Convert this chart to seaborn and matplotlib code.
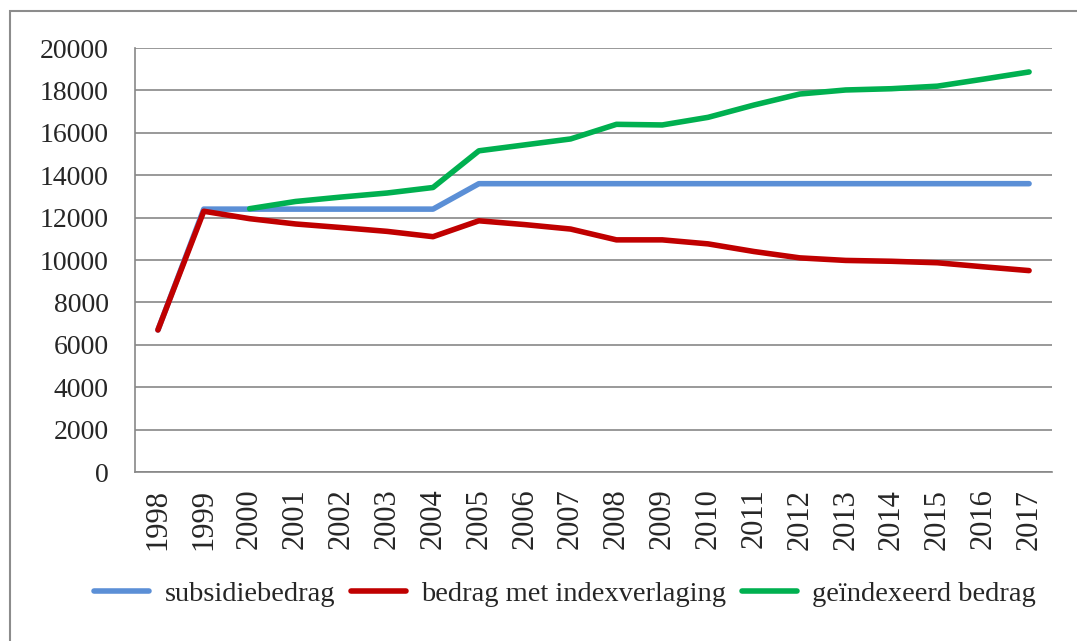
import numpy as np
import pandas as pd
import matplotlib
matplotlib.use("Agg")
import matplotlib.pyplot as plt
from matplotlib.patches import Rectangle
from matplotlib.ticker import MultipleLocator
import seaborn as sns

# data
years = list(range(1998, 2018))
subsidiebedrag = [6700, 12400, 12400, 12400, 12400, 12400, 12400, 13600, 13600, 13600,
                  13600, 13600, 13600, 13600, 13600, 13600, 13600, 13600, 13600, 13600]
indexverlaging = [6700, 12300, 11950, 11700, 11530, 11350, 11100, 11850, 11670, 11460,
                  10950, 10950, 10760, 10400, 10100, 9980, 9940, 9870, 9680, 9500]
geindexeerd = [np.nan, np.nan, 12420, 12760, 12970, 13160, 13420, 15150, 15430, 15710,
               16400, 16370, 16730, 17310, 17830, 18020, 18080, 18200, 18530, 18870]
series_names = ["subsidiebedrag", "bedrag met indexverlaging", "geïndexeerd bedrag"]
colors = ["#5B8FD6", "#C00000", "#00B050"]

df = pd.DataFrame({
    "jaar": years * 3,
    "bedrag": subsidiebedrag + indexverlaging + geindexeerd,
    "reeks": [series_names[0]] * 20 + [series_names[1]] * 20 + [series_names[2]] * 20,
})

sns.set_style("white")
plt.rcParams["font.family"] = ["Liberation Serif", "DejaVu Serif"]

fig = plt.figure(figsize=(10.77, 6.41), dpi=100)
ax = fig.add_axes([135 / 1077, 1 - 472 / 641, (1052 - 135) / 1077, (472 - 48) / 641])

sns.lineplot(data=df, x="jaar", y="bedrag", hue="reeks", hue_order=series_names,
             palette=colors, linewidth=4, ax=ax, legend=False)
for line in ax.get_lines():
    line.set_solid_capstyle("round")
    line.set_solid_joinstyle("round")

grid_c = "#878787"
ax.set_xlim(1997.5, 2017.5)
ax.set_ylim(0, 20000)
ax.set_yticks(range(0, 20001, 2000))
ax.set_xticks(years)
ax.set_xticklabels([str(y) for y in years], rotation=90)
ax.xaxis.set_minor_locator(MultipleLocator(1, offset=0.5))
ax.grid(axis="y", color=grid_c, linewidth=1.2)
ax.set_axisbelow(True)
ax.set_xlabel("")
ax.set_ylabel("")
for s in ["top", "right"]:
    ax.spines[s].set_visible(False)
for s in ["left", "bottom"]:
    ax.spines[s].set_color(grid_c)
    ax.spines[s].set_linewidth(1.2)
ax.tick_params(axis="x", which="major", length=0, pad=12, labelsize=22)
ax.tick_params(axis="x", which="minor", length=5.8, width=1.2, color=grid_c, direction="out")
ax.tick_params(axis="y", length=5.8, width=1.2, color=grid_c, direction="out", pad=13, labelsize=20)

handles = [plt.Line2D([], [], color=c, linewidth=4, solid_capstyle="round") for c in colors]
fig.legend(handles, series_names, loc="center", bbox_to_anchor=(565 / 1077, 1 - 594 / 641),
           ncol=3, frameon=False, fontsize=20.5, handlelength=1.95, handletextpad=0.53,
           columnspacing=0.55)

# chart area border
fig.patches.append(Rectangle((10 / 1077, -0.1), 1.2, 1 - 11 / 641 + 0.1,
                             transform=fig.transFigure, fill=False,
                             edgecolor="#8C8C8C", linewidth=1.5))

fig.savefig("out.png", dpi=100)
